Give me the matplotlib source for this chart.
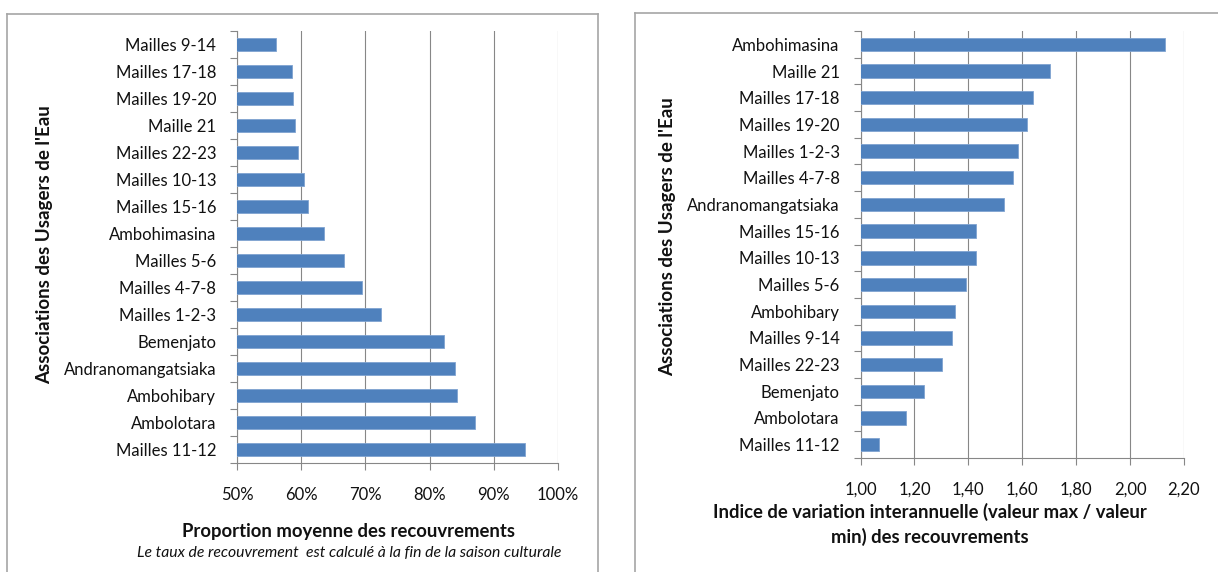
import matplotlib
matplotlib.use("Agg")
import matplotlib.pyplot as plt
from matplotlib.lines import Line2D
from matplotlib.ticker import FixedLocator, FuncFormatter

plt.rcParams['font.family'] = ['Lato', 'DejaVu Sans']

# Left chart: mean recovery proportion (top to bottom)
left_categories = ["Mailles 9-14", "Mailles 17-18", "Mailles 19-20", "Maille 21",
                   "Mailles 22-23", "Mailles 10-13", "Mailles 15-16", "Ambohimasina",
                   "Mailles 5-6", "Mailles 4-7-8", "Mailles 1-2-3", "Bemenjato",
                   "Andranomangatsiaka", "Ambohibary", "Ambolotara", "Mailles 11-12"]
left_values = [0.560, 0.586, 0.588, 0.590, 0.595, 0.604, 0.610, 0.635,
               0.667, 0.695, 0.724, 0.823, 0.839, 0.842, 0.871, 0.949]
left_ticks = [0.5, 0.6, 0.7, 0.8, 0.9, 1.0]

# Right chart: interannual variation index (top to bottom)
right_categories = ["Ambohimasina", "Maille 21", "Mailles 17-18", "Mailles 19-20",
                    "Mailles 1-2-3", "Mailles 4-7-8", "Andranomangatsiaka", "Mailles 15-16",
                    "Mailles 10-13", "Mailles 5-6", "Ambohibary", "Mailles 9-14",
                    "Mailles 22-23", "Bemenjato", "Ambolotara", "Mailles 11-12"]
right_values = [2.130, 1.702, 1.639, 1.616, 1.585, 1.566, 1.531, 1.427,
                1.427, 1.391, 1.350, 1.341, 1.301, 1.234, 1.170, 1.070]
right_ticks = [1.0, 1.2, 1.4, 1.6, 1.8, 2.0, 2.2]

W, H = 1218, 572
fig = plt.figure(figsize=(W / 100, H / 100), dpi=100)

BAR = "#4F81BD"
EDGE = "#7FA3D1"
GRID = "#878787"
TXT = "#111111"
TICKFS = 12

def fx(px):
    return px / W

def fy(py):
    return 1 - py / H

def style_axes(ax, cats, vals, ticks, fmt):
    n = len(cats)
    ys = list(range(n))
    ax.barh(ys, vals, height=0.5, color=BAR, edgecolor=EDGE, linewidth=0.6, zorder=3)
    ax.set_xlim(ticks[0], ticks[-1])
    ax.set_ylim(n - 0.5, -0.5)
    ax.set_yticks(ys)
    ax.set_yticklabels(cats)
    ax.yaxis.set_minor_locator(FixedLocator([i - 0.5 for i in range(n + 1)]))
    ax.tick_params(axis='y', which='major', length=0, pad=15, labelsize=TICKFS, labelcolor=TXT)
    ax.tick_params(axis='y', which='minor', length=5, color=GRID, width=0.8, direction='out')
    ax.set_xticks(ticks)
    ax.xaxis.set_major_formatter(FuncFormatter(fmt))
    ax.tick_params(axis='x', which='major', length=5, color=GRID, width=0.8,
                   direction='out', pad=12, labelsize=TICKFS, labelcolor=TXT)
    ax.grid(axis='x', color=GRID, linewidth=0.8, zorder=0)
    for s in ['top', 'right']:
        ax.spines[s].set_visible(False)
    for s in ['left', 'bottom']:
        ax.spines[s].set_color(GRID)
        ax.spines[s].set_linewidth(0.8)

# Left axes
axL = fig.add_axes([fx(237), fy(463), fx(558) - fx(237), fy(31) - fy(463)])
style_axes(axL, left_categories, left_values, left_ticks,
           lambda v, p: f"{int(round(v * 100))}%")

# Right axes
axR = fig.add_axes([fx(860.5), fy(458), fx(1184) - fx(860.5), fy(31) - fy(458)])
style_axes(axR, right_categories, right_values, right_ticks,
           lambda v, p: f"{v:.2f}".replace('.', ','))

# Y labels
fig.text(fx(45), fy(245), "Associations des Usagers de l'Eau", rotation=90,
         ha='center', va='center', fontsize=13.5, fontweight='bold', color=TXT)
fig.text(fx(668), fy(237), "Associations des Usagers de l'Eau", rotation=90,
         ha='center', va='center', fontsize=13.5, fontweight='bold', color=TXT)

# X labels
fig.text(fx(349), fy(531), "Proportion moyenne des recouvrements", ha='center',
         va='center', fontsize=13.3, fontweight='bold', color=TXT)
fig.text(fx(349), fy(553), "Le taux de recouvrement  est calculé à la fin de la saison culturale",
         ha='center', va='center', fontsize=11.3, style='italic', color=TXT)
fig.text(fx(930), fy(512), "Indice de variation interannuelle (valeur max / valeur",
         ha='center', va='center', fontsize=13.3, fontweight='bold', color=TXT)
fig.text(fx(930), fy(537), "min) des recouvrements",
         ha='center', va='center', fontsize=13.3, fontweight='bold', color=TXT)

# Panel borders
BORDER = "#a6a6a6"
for xs, ys in [([7, 7], [14, 572]), ([7, 598], [14, 14]), ([598, 598], [14, 572]),
               ([635, 635], [13, 572]), ([635, 1218], [13, 13])]:
    fig.add_artist(Line2D([fx(x) for x in xs], [fy(y) for y in ys],
                          color=BORDER, linewidth=1.2, transform=fig.transFigure))

fig.savefig("out.png", dpi=100, facecolor="white")
